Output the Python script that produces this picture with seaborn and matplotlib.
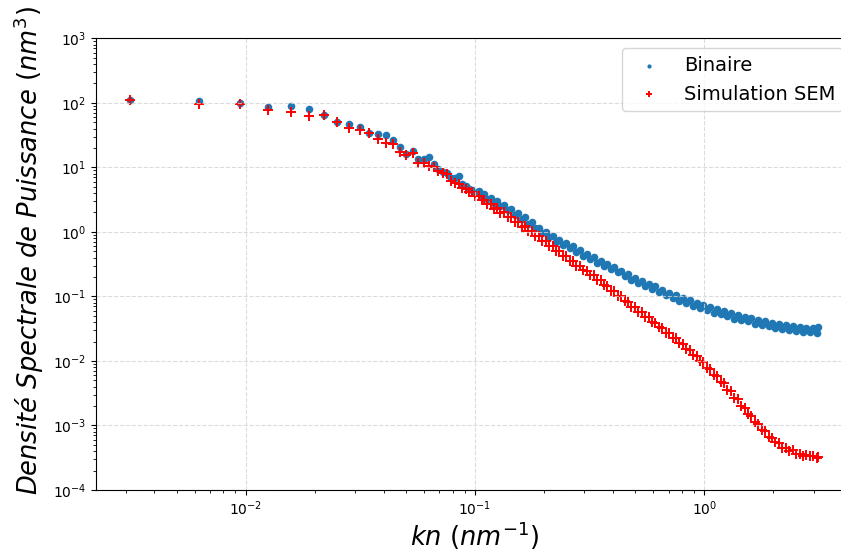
import matplotlib
matplotlib.use("Agg")
import matplotlib.pyplot as plt
import seaborn as sns
import pandas as pd

# frequences kn (nm^-1)
kn = [0.00314, 0.00628, 0.00942, 0.01257, 0.01571, 0.01885, 0.02199, 0.02513, 0.02827, 0.03142,
      0.03456, 0.0377, 0.04084, 0.04398, 0.04712, 0.05027, 0.05341, 0.05655, 0.05969, 0.06283,
      0.06597, 0.06912, 0.07226, 0.0754, 0.07854, 0.08168, 0.08482, 0.08796, 0.09111, 0.09425,
      0.0974, 0.1005, 0.1037, 0.1068, 0.110, 0.113, 0.117, 0.121, 0.125, 0.129,
      0.134, 0.139, 0.144, 0.149, 0.154, 0.160, 0.165, 0.171, 0.177, 0.183,
      0.190, 0.196, 0.203, 0.210, 0.218, 0.225, 0.233, 0.241, 0.250, 0.259,
      0.268, 0.277, 0.287, 0.297, 0.307, 0.318, 0.329, 0.341, 0.353, 0.365,
      0.378, 0.391, 0.405, 0.419, 0.434, 0.449, 0.465, 0.481, 0.498, 0.515,
      0.533, 0.552, 0.571, 0.591, 0.612, 0.633, 0.655, 0.678, 0.702, 0.727,
      0.752, 0.778, 0.806, 0.834, 0.863, 0.893, 0.925, 0.957, 0.991, 1.025,
      1.061, 1.098, 1.137, 1.177, 1.218, 1.261, 1.305, 1.351, 1.398, 1.447,
      1.498, 1.550, 1.605, 1.661, 1.719, 1.780, 1.842, 1.907, 1.974, 2.043,
      2.115, 2.189, 2.266, 2.345, 2.427, 2.513, 2.601, 2.692, 2.786, 2.884,
      2.985, 3.090, 3.142]

psd_binaire = [110, 107, 98, 86, 89, 79, 64, 51, 47.5, 42.2,
               34.4, 33.2, 31.7, 26.3, 20.7, 16, 17.9, 13.3, 13.3, 14.5,
               11.2, 9.3, 8.6, 8.3, 6.9, 6.8, 7.4, 5.5, 5.15, 4.6,
               4.5, 4.1, 4.3, 3.6, 3.9, 3.2, 3.4, 2.8, 3.0, 2.5,
               2.65, 2.15, 2.3, 1.85, 1.95, 1.6, 1.7, 1.35, 1.42, 1.13,
               1.17, 0.95, 1.0, 0.82, 0.87, 0.71, 0.75, 0.62, 0.67, 0.56,
               0.6, 0.48, 0.52, 0.43, 0.46, 0.375, 0.405, 0.33, 0.36, 0.3,
               0.32, 0.265, 0.285, 0.235, 0.25, 0.205, 0.22, 0.18, 0.195, 0.16,
               0.175, 0.145, 0.157, 0.13, 0.143, 0.117, 0.127, 0.105, 0.115, 0.095,
               0.104, 0.086, 0.094, 0.079, 0.087, 0.072, 0.079, 0.066, 0.073, 0.061,
               0.068, 0.056, 0.063, 0.053, 0.059, 0.049, 0.055, 0.045, 0.051, 0.043,
               0.048, 0.041, 0.046, 0.038, 0.043, 0.036, 0.041, 0.0345, 0.0385, 0.0325,
               0.037, 0.0315, 0.0355, 0.030, 0.0345, 0.029, 0.0335, 0.0285, 0.033, 0.028,
               0.0325, 0.0275, 0.034]

psd_sem = [112, 97, 96, 76.6, 72.8, 62.5, 64, 51, 41, 37.5,
           34.4, 27.8, 24.1, 23.3, 17.5, 15.5, 16.9, 11.8, 11.8, 10.5,
           10.1, 8.9, 8.2, 7.8, 6.2, 5.8, 5.5, 4.75, 4.6, 4.1,
           4.1, 3.6, 3.55, 3.1, 3.15, 2.7, 2.75, 2.3, 2.35, 1.98,
           2.0, 1.68, 1.68, 1.42, 1.44, 1.2, 1.22, 1.03, 1.04, 0.86,
           0.87, 0.73, 0.73, 0.61, 0.6, 0.51, 0.51, 0.43, 0.43, 0.36,
           0.36, 0.3, 0.3, 0.255, 0.252, 0.212, 0.212, 0.178, 0.177, 0.148,
           0.147, 0.123, 0.122, 0.101, 0.1, 0.084, 0.083, 0.0695, 0.069, 0.0575,
           0.057, 0.0478, 0.0475, 0.0398, 0.0393, 0.0332, 0.0327, 0.0275, 0.0271, 0.0227,
           0.0224, 0.0188, 0.0186, 0.0154, 0.015, 0.0125, 0.0121, 0.0099, 0.0096, 0.0079,
           0.0076, 0.0061, 0.0059, 0.0047, 0.0045, 0.00358, 0.0034, 0.0027, 0.00253, 0.00202,
           0.00189, 0.00152, 0.00142, 0.00114, 0.00107, 0.00086, 0.00081, 0.00067, 0.00065, 0.00055,
           0.00053, 0.00045, 0.00045, 0.000405, 0.00041, 0.000365, 0.000368, 0.000342, 0.000352, 0.000332,
           0.000337, 0.000318, 0.000325]

df = pd.DataFrame({'kn': kn, 'Binaire': psd_binaire, 'SEM': psd_sem})

fig = plt.figure(figsize=(8.41, 5.54), dpi=100)
ax = fig.add_axes([0.114, 0.1155, 0.900, 0.8153])

sns.scatterplot(data=df, x='kn', y='Binaire', ax=ax, marker='o', s=30,
                color='#1f77b4', linewidth=0, label='Binaire')
sns.scatterplot(data=df, x='kn', y='SEM', ax=ax, marker='+', s=60,
                color='red', linewidth=1.4, label='Simulation SEM')

ax.set_xscale('log')
ax.set_yscale('log')
ax.set_ylim(1e-4, 1e3)
ax.grid(True, which='major', linestyle='--', color='lightgray', alpha=0.8)
ax.tick_params(labelsize=10)
ax.set_xlabel(r'$kn\ (nm^{-1})$', fontsize=18.5, labelpad=1)
ax.set_ylabel(r'$Densité\ Spectrale\ de\ Puissance\ (nm^3)$', fontsize=18.5)
ax.yaxis.set_label_coords(-0.066, 0.53)
ax.legend(loc='upper right', fontsize=14, markerscale=0.55)

plt.savefig('out.png', dpi=100)
